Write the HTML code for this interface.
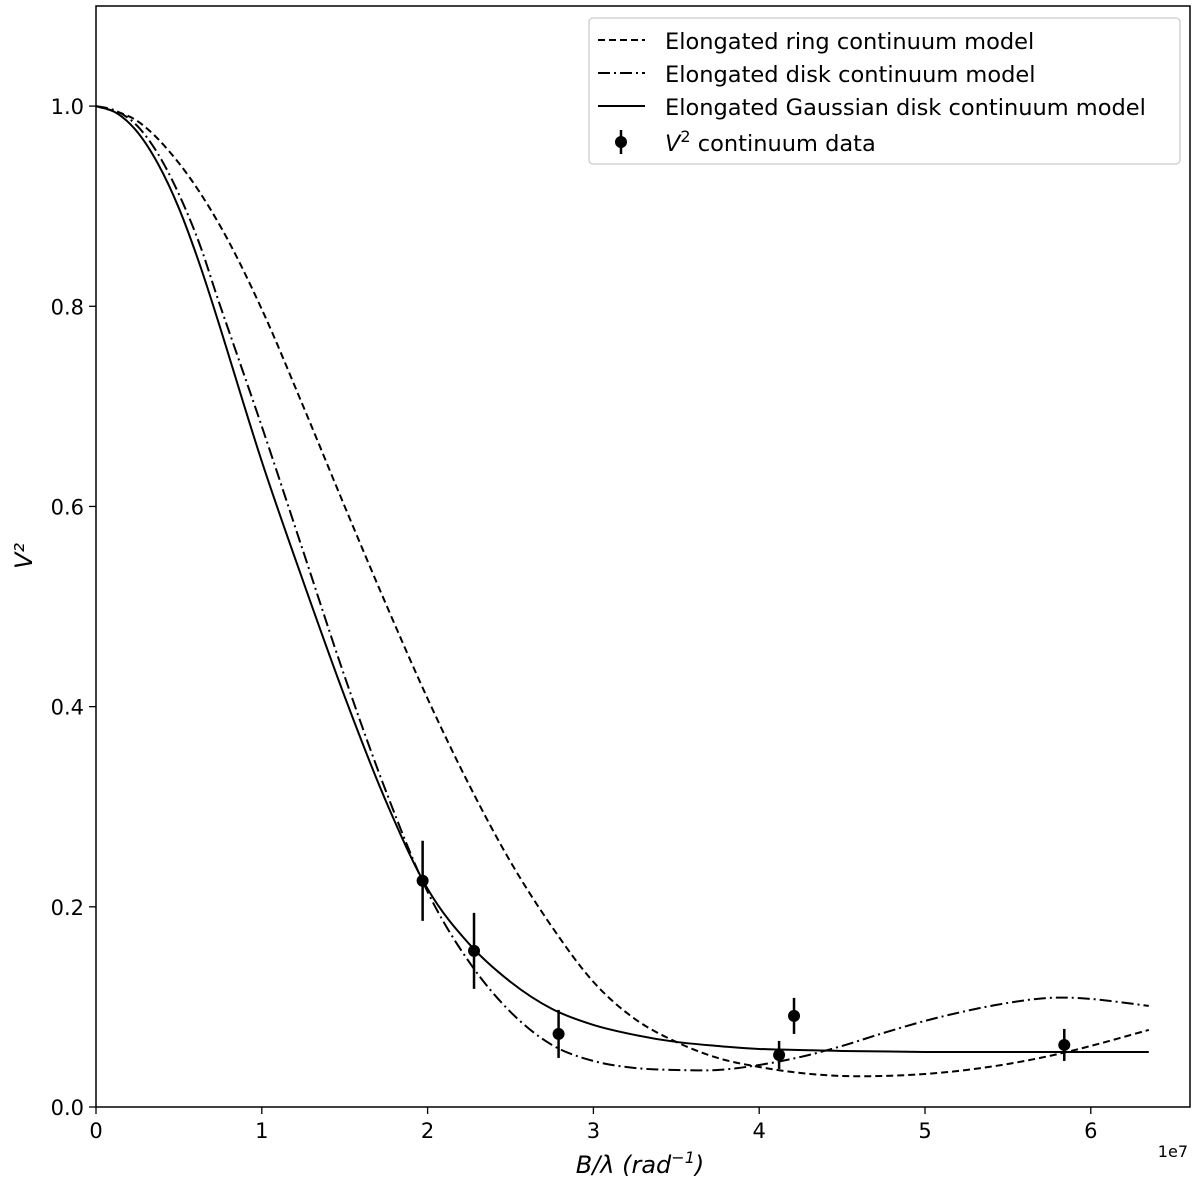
<!DOCTYPE html>
<html><head><meta charset="utf-8"><style>
body{margin:0;background:#fff}
svg text{font-family:"DejaVu Sans","Liberation Sans",sans-serif;fill:#000}
</style></head><body>
<svg id="chart" width="1200" height="1187" xmlns="http://www.w3.org/2000/svg" style="position:absolute;left:0;top:0">
<g id="plot"></g>
</svg>
<script>
const xTicks=[0,1,2,3,4,5,6];
const yTicks=[0.0,0.2,0.4,0.6,0.8,1.0];
const ringX=[0,0.25,0.5,0.75,1,1.25,1.5,1.75,2,2.25,2.5,2.75,3,3.25,3.5,3.75,4,4.25,4.5,4.75,5,5.25,5.5,5.75,6,6.35];
const ringY=[1,0.985,0.943,0.88,0.797,0.7,0.6,0.502,0.408,0.322,0.245,0.18,0.125,0.088,0.065,0.049,0.04,0.034,0.031,0.031,0.033,0.037,0.043,0.051,0.061,0.077];
const diskX=[0,0.125,0.25,0.375,0.5,0.625,0.75,1,1.25,1.5,1.75,2,2.25,2.5,2.75,3,3.25,3.5,3.75,4,4.25,4.5,4.75,5,5.25,5.5,5.75,6,6.35];
const diskY=[1,0.995,0.98,0.952,0.912,0.862,0.8,0.68,0.555,0.43,0.315,0.215,0.145,0.095,0.062,0.046,0.039,0.037,0.037,0.042,0.05,0.061,0.074,0.086,0.096,0.104,0.109,0.108,0.101];
const gaussX=[0,0.125,0.25,0.375,0.5,0.625,0.75,1,1.25,1.5,1.75,2,2.25,2.5,2.75,3,3.25,3.5,3.75,4,4.5,5,5.5,6,6.35];
const gaussY=[1,0.993,0.974,0.942,0.898,0.842,0.778,0.645,0.525,0.41,0.305,0.218,0.163,0.125,0.098,0.082,0.072,0.065,0.061,0.058,0.056,0.055,0.055,0.055,0.055];
const dataX=[1.97,2.28,2.79,4.12,4.21,5.84];
const dataY=[0.226,0.156,0.073,0.052,0.091,0.062];
const dataErr=[0.04,0.038,0.024,0.014,0.018,0.016];

const L=96,R=1190,T=6,B=1107;
const xMin=0,xMax=(R-L)/165.8,yMin=0,yMax=1.1;
const sx=v=>L+(v-xMin)/(xMax-xMin)*(R-L);
const sy=v=>B-(v-yMin)/(yMax-yMin)*(B-T);
const NS="http://www.w3.org/2000/svg";
const g=document.getElementById('plot');
function mk(tag,attrs,parent){const e=document.createElementNS(NS,tag);for(const k in attrs)e.setAttribute(k,attrs[k]);(parent||g).appendChild(e);return e;}
function spline(xs,ys){
  const p=xs.map((x,i)=>[sx(x),sy(ys[i])]);
  let d=`M${p[0][0]},${p[0][1]}`;
  for(let i=0;i<p.length-1;i++){
    const p0=p[Math.max(0,i-1)],p1=p[i],p2=p[i+1],p3=p[Math.min(p.length-1,i+2)];
    const c1=[p1[0]+(p2[0]-p0[0])/6,p1[1]+(p2[1]-p0[1])/6];
    const c2=[p2[0]-(p3[0]-p1[0])/6,p2[1]-(p3[1]-p1[1])/6];
    d+=`C${c1[0]},${c1[1]} ${c2[0]},${c2[1]} ${p2[0]},${p2[1]}`;
  }
  return d;
}
xTicks.forEach(t=>{
  const x=sx(t);
  const tk=mk('line',{x1:x,x2:x,y1:B,y2:B+7,stroke:'#000','stroke-width':1.3});
  
  
  const tx=mk('text',{x:x,y:B+31,'text-anchor':'middle','font-size':21});
  tx.textContent=t;
  
  
});
yTicks.forEach(t=>{
  const y=sy(t);
  const tk=mk('line',{x1:L-7,x2:L,y1:y,y2:y,stroke:'#000','stroke-width':1.3});
  
  
  const tx=mk('text',{x:L-12,y:y+8,'text-anchor':'end','font-size':21});
  tx.textContent=t.toFixed(1);
  
  
});
const ring=mk('path',{d:spline(ringX,ringY),fill:'none',stroke:'#000','stroke-width':2,'stroke-dasharray':'7,4'});


const disk=mk('path',{d:spline(diskX,diskY),fill:'none',stroke:'#000','stroke-width':2,'stroke-dasharray':'12,4,2,4'});


const gauss=mk('path',{d:spline(gaussX,gaussY),fill:'none',stroke:'#000','stroke-width':2});


dataX.forEach((x,i)=>{
  const eb=mk('line',{x1:sx(x),x2:sx(x),y1:sy(dataY[i]-dataErr[i]),y2:sy(dataY[i]+dataErr[i]),stroke:'#000','stroke-width':2.5});
  
  
  const pt=mk('circle',{cx:sx(x),cy:sy(dataY[i]),r:6,fill:'#000'});
  
  
});
const fr=mk('rect',{x:L,y:T,width:R-L,height:B-T,fill:'none',stroke:'#000','stroke-width':1.5});


</script>
<svg style="position:absolute;left:0;top:0" width="1200" height="1187" xmlns="http://www.w3.org/2000/svg">
<text x="640" y="1173" text-anchor="middle" font-size="24" font-style="italic">B/λ (rad<tspan dy="-10" font-size="16">−1</tspan><tspan dy="10">)</tspan></text>
<text x="1188" y="1157" text-anchor="end" font-size="16">1e7</text>
<text transform="translate(32,556) rotate(-90)" text-anchor="middle" font-size="24" font-style="italic">V²</text>
<g>
<rect x="589" y="18" width="591" height="146" rx="4" fill="#fff" stroke="#ccc" stroke-width="1.3"/>
<line x1="598" x2="645" y1="40" y2="40" stroke="#000" stroke-width="2" stroke-dasharray="7,4"/>
<text x="665" y="49" font-size="22.5">Elongated ring continuum model</text>
<line x1="598" x2="645" y1="73" y2="73" stroke="#000" stroke-width="2" stroke-dasharray="12,4,2,4"/>
<text x="665" y="82" font-size="22.5">Elongated disk continuum model</text>
<line x1="598" x2="645" y1="106" y2="106" stroke="#000" stroke-width="2"/>
<text x="665" y="115" font-size="22.5">Elongated Gaussian disk continuum model</text>
<line x1="621" x2="621" y1="130" y2="154" stroke="#000" stroke-width="2.5"/>
<circle cx="621" cy="142" r="6" fill="#000"/>
<text x="665" y="151" font-size="22.5"><tspan font-style="italic">V</tspan><tspan dy="-9" font-size="16">2</tspan><tspan dy="9"> continuum data</tspan></text>
</g>
</svg>
</body></html>
